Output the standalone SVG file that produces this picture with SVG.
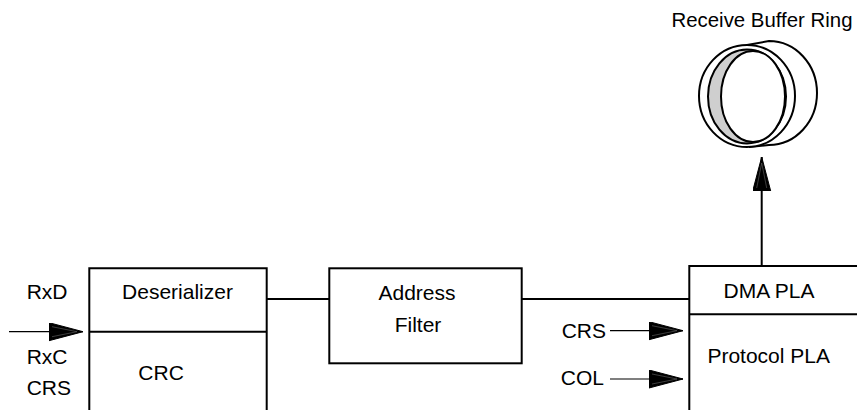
<svg xmlns="http://www.w3.org/2000/svg" width="857" height="410" viewBox="0 0 857 410">
<style>
text{font-family:"Liberation Sans",Arial,sans-serif;font-size:21px;fill:#000}
.box{fill:#fff;stroke:#000;stroke-width:2}
.wire{fill:none;stroke:#000;stroke-width:2}
.in{fill:none;stroke:#000;stroke-width:1.2}
.ring{stroke:#000;stroke-width:2}
</style>
<defs>
<marker id="ah" markerUnits="userSpaceOnUse" markerWidth="36" markerHeight="20" viewBox="0 0 36 20" refX="34" refY="9" orient="auto">
<path d="M0,0 L34,9 L0,18 Z" fill="#000" stroke="#000" stroke-width="1"/>
<path d="M3,4 L28,9 L3,14" fill="none" stroke="#666" stroke-width="0.6"/>
</marker>
</defs>
<g id="connectors">
<line class="wire" x1="266.7" y1="299" x2="329.3" y2="299"/>
<line class="wire" x1="521.7" y1="299" x2="689.3" y2="299"/>
<line class="wire" x1="761.7" y1="266" x2="761.7" y2="157" marker-end="url(#ah)"/>
<line class="in" x1="9" y1="331.7" x2="83" y2="331.7" marker-end="url(#ah)"/>
<line class="in" x1="610" y1="330.7" x2="683" y2="330.7" marker-end="url(#ah)"/>
<line class="in" x1="610" y1="379" x2="683" y2="379" marker-end="url(#ah)"/>
</g>
<g id="rxlabels">
<text x="26.7" y="299">RxD</text>
<text x="26.7" y="364">RxC</text>
<text x="26.7" y="395">CRS</text>
</g>
<g id="deserializer">
<path class="box" d="M89.3,420 V268.3 H266.7 V420"/>
<line class="wire" x1="89.3" y1="331.7" x2="266.7" y2="331.7"/>
<text x="177.5" y="299" text-anchor="middle">Deserializer</text>
<text x="138.3" y="380">CRC</text>
</g>
<g id="address-filter">
<rect class="box" x="329.3" y="268.3" width="192.4" height="95"/>
<text x="417" y="300" text-anchor="middle">Address</text>
<text x="418" y="331.7" text-anchor="middle">Filter</text>
</g>
<g id="pla">
<path class="box" d="M689.3,420 V266 H870"/>
<line class="wire" x1="689.3" y1="314.3" x2="870" y2="314.3"/>
<text x="769" y="298" text-anchor="middle">DMA PLA</text>
<text x="768.7" y="362.7" text-anchor="middle">Protocol PLA</text>
<text x="606" y="338" text-anchor="end">CRS</text>
<text x="604" y="385" text-anchor="end">COL</text>
</g>
<g id="ring">
<path class="ring" fill="#fff" d="M747,45 L769,41 A48,52 0 0 1 769,145 L750,147 Z"/>
<ellipse class="ring" fill="#fff" cx="747" cy="96" rx="48" ry="51"/>
<ellipse class="ring" fill="#cfcfcf" cx="747" cy="96.5" rx="39" ry="47"/>
<ellipse class="ring" fill="#fff" cx="753" cy="96.5" rx="32" ry="45.5"/>
<text x="762" y="27.3" text-anchor="middle" style="font-size:20.4px">Receive Buffer Ring</text>
</g>
</svg>
